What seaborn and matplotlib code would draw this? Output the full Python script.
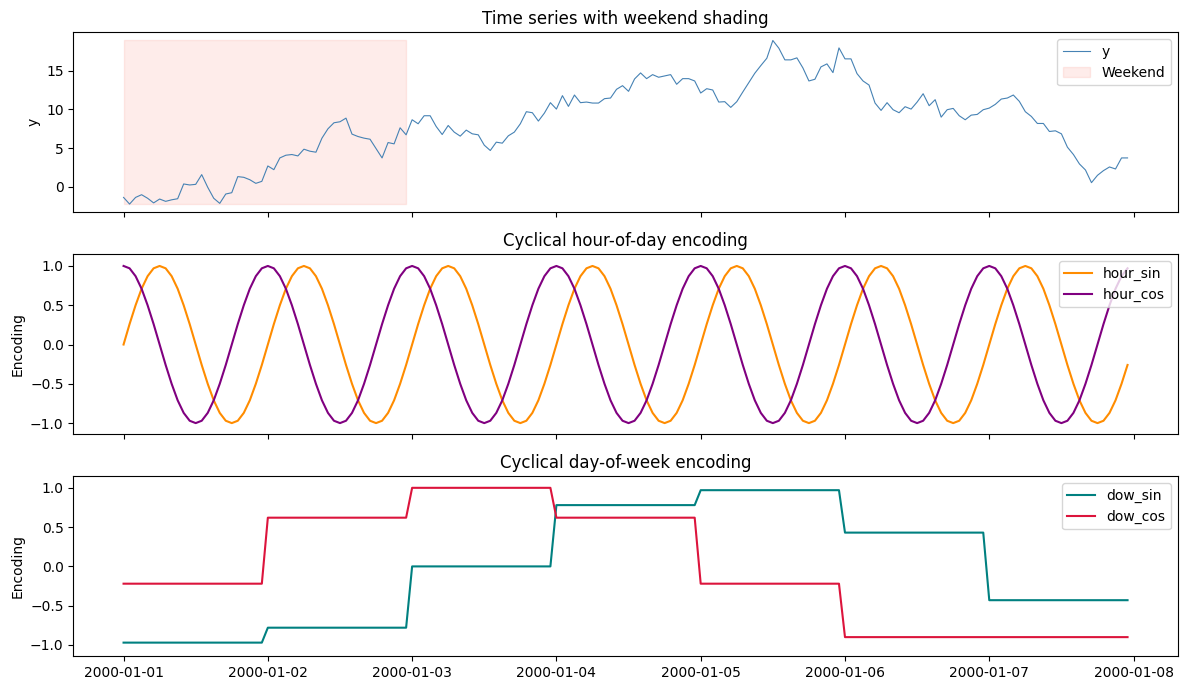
import pandas as pd
import matplotlib
matplotlib.use("Agg")
import matplotlib.pyplot as plt
import matplotlib.dates as mdates
import seaborn as sns

# hourly index, one week
timestamps = pd.date_range("2000-01-01", periods=168, freq="h")

# target series
y_values = [
    -1.39, -2.25, -1.39, -1.04, -1.50, -2.10, -1.60, -1.90, -1.70, -1.56, 0.35, 0.22,
    0.30, 1.56, -0.08, -1.50, -2.16, -0.95, -0.78, 1.30, 1.21, 0.90, 0.43, 0.69,
    2.68, 2.20, 3.72, 4.07, 4.16, 3.98, 4.85, 4.59, 4.46, 6.28, 7.49, 8.27,
    8.40, 8.87, 6.80, 6.49, 6.28, 6.14, 4.94, 3.72, 5.71, 5.54, 7.62, 6.71,
    8.66, 8.14, 9.18, 9.18, 7.79, 6.75, 7.92, 7.06, 6.54, 7.32, 6.84, 6.71,
    5.37, 4.68, 5.76, 5.63, 6.58, 7.06, 8.14, 9.70, 9.57, 8.49, 9.52, 10.87,
    10.04, 11.78, 10.39, 11.86, 10.87, 10.95, 10.82, 10.82, 11.39, 11.47, 12.60, 13.07,
    12.34, 13.94, 14.72, 13.98, 14.50, 14.16, 14.33, 14.50, 13.25, 13.98, 13.98, 13.68,
    12.12, 12.68, 12.51, 10.95, 11.00, 10.26, 11.00, 12.25, 13.46, 14.68, 15.67, 16.62,
    18.92, 17.92, 16.41, 16.41, 16.67, 15.37, 13.68, 13.90, 15.50, 15.89, 14.76, 17.96,
    16.54, 16.54, 14.63, 13.68, 13.15, 10.82, 9.87, 10.87, 9.96, 9.57, 10.35, 10.04,
    10.95, 12.03, 10.48, 11.26, 9.00, 9.96, 10.13, 9.18, 8.66, 9.26, 9.35, 9.96,
    10.17, 10.65, 11.34, 11.47, 11.86, 11.04, 9.70, 9.09, 8.18, 8.18, 7.14, 7.23,
    6.84, 5.11, 4.16, 2.94, 2.16, 0.52, 1.47, 2.08, 2.55, 2.29, 3.72, 3.72,
]

# encoding per hour of day (0..23)
hour_sin_by_hour = [0.00, 0.26, 0.50, 0.71, 0.87, 0.97, 1.00, 0.97, 0.87, 0.71, 0.50, 0.26,
                    0.00, -0.26, -0.50, -0.71, -0.87, -0.97, -1.00, -0.97, -0.87, -0.71, -0.50, -0.26]
hour_cos_by_hour = [1.00, 0.97, 0.87, 0.71, 0.50, 0.26, 0.00, -0.26, -0.50, -0.71, -0.87, -0.97,
                    -1.00, -0.97, -0.87, -0.71, -0.50, -0.26, 0.00, 0.26, 0.50, 0.71, 0.87, 0.97]

# encoding per weekday (Mon=0 .. Sun=6)
dow_sin_by_day = [0.00, 0.78, 0.97, 0.43, -0.43, -0.97, -0.78]
dow_cos_by_day = [1.00, 0.62, -0.22, -0.90, -0.90, -0.22, 0.62]

df = pd.DataFrame({"ts": timestamps, "y": y_values})
df["hour_sin"] = [hour_sin_by_hour[h] for h in df["ts"].dt.hour]
df["hour_cos"] = [hour_cos_by_hour[h] for h in df["ts"].dt.hour]
df["dow_sin"] = [dow_sin_by_day[d] for d in df["ts"].dt.dayofweek]
df["dow_cos"] = [dow_cos_by_day[d] for d in df["ts"].dt.dayofweek]
df["weekend"] = df["ts"].dt.dayofweek >= 5

fig, axes = plt.subplots(3, 1, figsize=(11.87, 6.9), dpi=100, sharex=True)
fig.subplots_adjust(left=0.0618, right=0.9922, top=0.9532, bottom=0.0493, hspace=0.233)

# 时间序列 + 周末阴影
ax = axes[0]
sns.lineplot(data=df, x="ts", y="y", ax=ax, color="steelblue", linewidth=0.8, label="y")
ax.fill_between(df["ts"], df["y"].min(), df["y"].max(), where=df["weekend"],
                color="salmon", alpha=0.15, label="Weekend")
ax.set_title("Time series with weekend shading")
ax.set_ylabel("y")
ax.set_xlabel("")
ax.legend(loc="upper right")

# 小时编码
ax = axes[1]
sns.lineplot(data=df, x="ts", y="hour_sin", ax=ax, color="darkorange", label="hour_sin")
sns.lineplot(data=df, x="ts", y="hour_cos", ax=ax, color="purple", label="hour_cos")
ax.set_title("Cyclical hour-of-day encoding")
ax.set_ylabel("Encoding")
ax.set_xlabel("")
ax.set_ylim(-1.14, 1.15)
ax.legend(loc="upper right")

# 星期编码
ax = axes[2]
sns.lineplot(data=df, x="ts", y="dow_sin", ax=ax, color="teal", label="dow_sin")
sns.lineplot(data=df, x="ts", y="dow_cos", ax=ax, color="crimson", label="dow_cos")
ax.set_title("Cyclical day-of-week encoding")
ax.set_ylabel("Encoding")
ax.set_xlabel("")
ax.set_ylim(-1.14, 1.15)
ax.legend(loc="upper right")

ax.xaxis.set_major_locator(mdates.DayLocator())
ax.xaxis.set_major_formatter(mdates.DateFormatter("%Y-%m-%d"))

plt.savefig("out.png", dpi=100)
plt.close()
